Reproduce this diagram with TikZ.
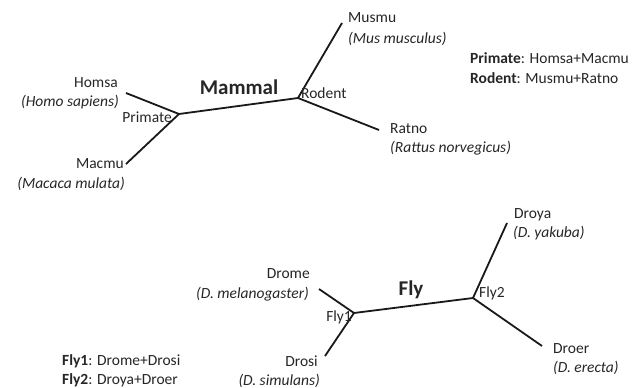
\documentclass[tikz,border=0pt]{standalone}
\usepackage{fontspec}
\setmainfont{Carlito}
\definecolor{txt}{HTML}{262626}
\begin{document}
\begin{tikzpicture}[x=1pt,y=-1pt,
  lbl/.style={inner sep=0pt,text=txt,font=\fontsize{15.5}{19}\selectfont},
  lr/.style={lbl,anchor=base east},
  ll/.style={lbl,anchor=base west},
  big/.style={inner sep=0pt,text=txt,anchor=base,font=\fontsize{21}{25}\selectfont\bfseries},
  branch/.style={line width=1.8pt,black!90}]
\useasboundingbox (0,0) rectangle (635,388);
% Mammal tree
\coordinate (primate) at (179,114);
\coordinate (rodent) at (298,98);
\coordinate (homsa) at (126,93);
\coordinate (macmu) at (126,164);
\coordinate (musmu) at (342,23);
\coordinate (ratno) at (379,130);
\draw[branch] (homsa) -- (primate) -- (macmu);
\draw[branch] (primate) -- (rodent);
\draw[branch] (musmu) -- (rodent) -- (ratno);
\node[lr] (t1) at (118,87) {Homsa};
\node[lr] (t2) at (119,106) {\itshape (Homo sapiens)};
\node[lr] (t3) at (172,122) {Primate};
\node[lr] (t4) at (124,168) {Macmu};
\node[lr] (t5) at (125,188) {\itshape (Macaca mulata)};
\node[big] (t6) at (239,94) {Mammal};
\node[ll] (t7) at (301,98) {Rodent};
\node[ll] (t8) at (348,23) {Musmu};
\node[ll] (t9) at (348,43) {\itshape (Mus musculus)};
\node[ll] (t10) at (390,133) {Ratno};
\node[ll] (t11) at (390,152) {\itshape (Rattus norvegicus)};
\node[ll] (t12) at (470,63) {\textbf{Primate}: Homsa+Macmu};
\node[ll] (t13) at (470,83) {\textbf{Rodent}: Musmu+Ratno};
% Fly tree
\coordinate (fly1) at (354,313);
\coordinate (fly2) at (473,298);
\coordinate (drome) at (319,289);
\coordinate (drosi) at (325,356);
\coordinate (droya) at (507,223);
\coordinate (droer) at (542,346);
\draw[branch] (drome) -- (fly1) -- (drosi);
\draw[branch] (fly1) -- (fly2);
\draw[branch] (droya) -- (fly2) -- (droer);
\node[lr] (f1) at (310,278) {Drome};
\node[lr] (f2) at (309,298) {\itshape (D. melanogaster)};
\node[lr] (f3) at (352,321) {Fly1};
\node[lr] (f4) at (318,366) {Drosi};
\node[lr] (f5) at (320,385) {\itshape (D. simulans)};
\node[big] (f6) at (411,295) {Fly};
\node[ll] (f7) at (479,297) {Fly2};
\node[ll] (f8) at (514,218) {Droya};
\node[ll] (f9) at (513,237) {\itshape (D. yakuba)};
\node[ll] (f10) at (553,353) {Droer};
\node[ll] (f11) at (553,372) {\itshape (D. erecta)};
\node[ll] (f12) at (62,365) {\textbf{Fly1}: Drome+Drosi};
\node[ll] (f13) at (62,384) {\textbf{Fly2}: Droya+Droer};
\end{tikzpicture}
\end{document}
